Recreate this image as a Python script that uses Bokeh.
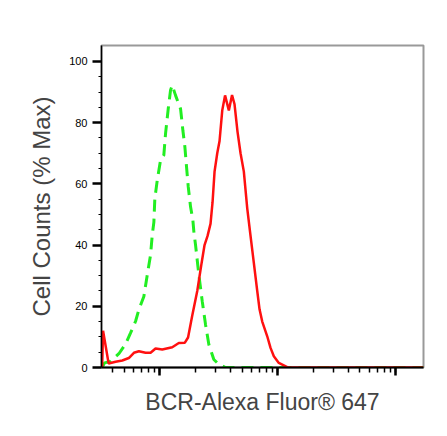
from bokeh.plotting import figure
from bokeh.models import Range1d, FixedTicker, LogTicker
from bokeh.embed import file_html
from bokeh.resources import INLINE

# Red: BCR-Alexa Fluor 647 stained sample (fluorescence, % max)
red_x = [326, 332, 370, 424, 483, 549, 606, 668, 761, 839, 925, 1054, 1281, 1457,
         1639, 1744, 1893, 2087, 2269, 2406, 2552, 2705, 2813, 2925, 3083, 3225,
         3400, 3591, 3866, 4115, 4321, 4581, 4858, 5181, 5536, 5904, 6259, 6730,
         7039, 7418, 8178, 8723, 9303, 10256, 12082, 15665, 172700]
red_y = [0, 12, 1.3, 1.9, 2.3, 3.1, 4.8, 5.3, 4.8, 4.8, 6.2, 5.9, 6.6, 8.0,
         8.1, 9.8, 17, 25, 34, 40, 43, 47, 54, 64, 70, 74,
         84, 88.9, 84, 89, 86, 77, 70, 64, 52, 43, 35, 25,
         19, 15, 10.2, 6.4, 3.7, 1.5, 0.1, 0, 0]

# Green dashed: isotype / unstained control
green_x = [326, 342, 384, 452, 515, 568, 626, 668, 736, 787, 839, 867, 895, 912,
           956, 1020, 1087, 1124, 1185, 1239, 1281, 1366, 1507, 1576, 1639, 1684,
           1751, 1831, 1915, 1953, 2019, 2153, 2301, 2454, 2617, 2885, 3181, 3626,
           172700]
green_y = [0, 1.5, 2.0, 4.5, 7.7, 11.3, 15.1, 18.9, 23.2, 30.3, 36.8, 43.3, 47.5, 55.2,
           61.2, 67.8, 69.4, 76.4, 84.6, 90.6, 92.2, 88.9, 84.5, 77.5, 72.1, 66.6,
           59, 52.5, 48.2, 44.4, 40, 30.3, 21.6, 14, 7.5, 2.6, 1, 0,
           0]

y_ticks = [0, 20, 40, 60, 80, 100]
y_minor = [5, 10, 15, 25, 30, 35, 45, 50, 55, 65, 70, 75, 85, 90, 95]

p = figure(width=431, height=420, x_axis_type="log",
           x_range=Range1d(322, 172700), y_range=Range1d(0, 105.2),
           output_backend="svg", toolbar_location=None,
           min_border_left=101, min_border_right=8, min_border_top=45,
           min_border_bottom=53)
p.grid.visible = False
p.outline_line_color = "#999999"
p.outline_line_width = 2
p.background_fill_color = "white"
p.border_fill_color = "white"

p.line(green_x, green_y, line_color="#22ee22", line_width=3, line_dash="12 7")
p.line(red_x, red_y, line_color="#ff1010", line_width=2.5)

# x axis
xa = p.xaxis[0]
xa.ticker = LogTicker(num_minor_ticks=10)
xa.major_label_text_font_size = "1px"
xa.major_label_text_alpha = 0
xa.major_label_standoff = 0
xa.axis_line_color = "black"
xa.axis_line_width = 2
xa.major_tick_out = 8
xa.major_tick_in = 0
xa.major_tick_line_width = 2.5
xa.minor_tick_out = 5
xa.minor_tick_in = 0
xa.minor_tick_line_width = 1.5
xa.axis_label = "BCR-Alexa Fluor® 647"
xa.axis_label_text_font = "Liberation Sans"
xa.axis_label_text_font_size = "23px"
xa.axis_label_text_font_style = "normal"
xa.axis_label_standoff = 13

# y axis
ya = p.yaxis[0]
ya.ticker = FixedTicker(ticks=y_ticks, minor_ticks=y_minor)
ya.major_label_text_font = "Liberation Sans"
ya.major_label_text_font_size = "11px"
ya.major_label_text_color = "black"
ya.major_label_standoff = 5
ya.axis_line_color = "black"
ya.axis_line_width = 1.5
ya.major_tick_out = 9
ya.major_tick_in = 0
ya.major_tick_line_width = 2.5
ya.minor_tick_out = 3
ya.minor_tick_in = 0
ya.minor_tick_line_width = 1
ya.axis_label = "Cell Counts (% Max)"
ya.axis_label_text_font = "Liberation Sans"
ya.axis_label_text_font_size = "24px"
ya.axis_label_text_font_style = "normal"
ya.axis_label_standoff = 11

open("out.html", "w").write(file_html(p, INLINE))
